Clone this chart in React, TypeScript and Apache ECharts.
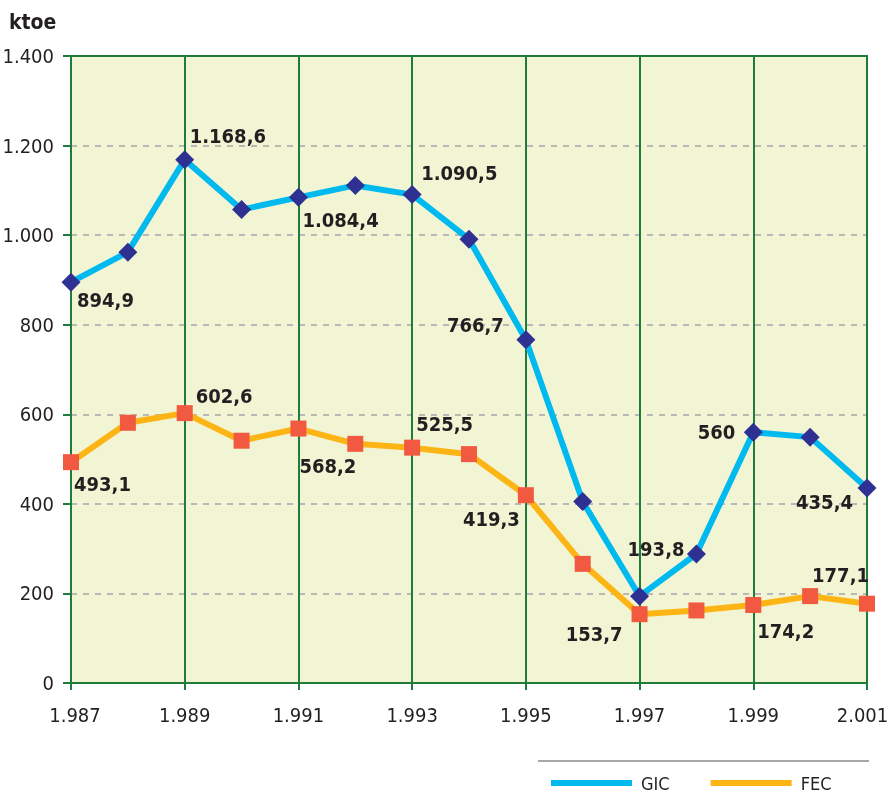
import React, { useEffect, useRef } from "react";
import * as echarts from "echarts";

const years = ["1987","1988","1989","1990","1991","1992","1993","1994","1995","1996","1997","1998","1999","2000","2001"];
const yearLabels = ["1.987","1.988","1.989","1.990","1.991","1.992","1.993","1.994","1.995","1.996","1.997","1.998","1.999","2.000","2.001"];
const gicValues = [894.9, 962, 1168.6, 1057, 1084.4, 1111, 1090.5, 991, 766.7, 405, 193.8, 288, 560, 549, 435.4];
const fecValues = [493.1, 581, 602.6, 541, 568.2, 534, 525.5, 511, 419.3, 266, 153.7, 162, 174.2, 194, 177.1];
const yTicks = [0, 200, 400, 600, 800, 1000, 1200, 1400];

// label placement: index -> [align, dx, dy]
const gicLabelPlace: Record<number, [string, number, number]> = {
  0: ["left", 6, 18],
  2: ["left", 5, -24],
  4: ["left", 4, 23],
  6: ["left", 9, -22],
  8: ["right", -22, -15],
  10: ["left", -12, -47],
  12: ["right", -18, 0],
  14: ["right", -14, 14],
};
const fecLabelPlace: Record<number, [string, number, number]> = {
  0: ["left", 3, 22],
  2: ["left", 11, -17],
  4: ["left", 1, 37],
  6: ["left", 4, -24],
  8: ["right", -6, 24],
  10: ["right", -17, 20],
  12: ["left", 4, 26],
  14: ["right", 2, -29],
};

const FONT = "'Liberation Sans Narrow', 'DejaVu Sans Condensed', 'Arial Narrow', sans-serif";
const TEXT = "#231f20";
const GREEN = "#1e7d3a";

function fmtNum(v: number): string {
  const neg = v < 0;
  const a = Math.abs(v);
  const intPart = Math.floor(a + 1e-9);
  const dec = Math.round((a - intPart) * 10);
  let s = String(intPart);
  if (intPart >= 1000) s = Math.floor(intPart / 1000) + "." + String(intPart % 1000).padStart(3, "0");
  if (dec > 0) s += "," + dec;
  return (neg ? "-" : "") + s;
}

function buildData(values: number[], place: Record<number, [string, number, number]>) {
  return values.map((v, i) => {
    const p = place[i];
    if (!p) return { value: v };
    return {
      value: v,
      label: {
        show: true,
        position: "inside",
        align: p[0],
        verticalAlign: "middle",
        offset: [p[1], p[2]],
        formatter: () => fmtNum(v),
        fontFamily: FONT,
        fontWeight: "bold",
        fontSize: 20,
        color: TEXT,
      },
    };
  });
}

export default function App() {
  const ref = useRef<HTMLDivElement>(null);
  useEffect(() => {
    if (!ref.current) return;
    const chart = echarts.init(ref.current, null, { renderer: "svg" });
    const axisFont = { fontSize: 20, color: TEXT, fontFamily: FONT };
    chart.setOption({
      animation: false,
      textStyle: { fontFamily: FONT },
      grid: {
        left: 71,
        right: 23,
        top: 56,
        bottom: 114,
        outerBoundsMode: "none",
        containLabel: false,
        show: true,
        backgroundColor: "#f1f5d4",
        borderColor: GREEN,
        borderWidth: 2,
      },
      xAxis: {
        type: "category",
        data: years,
        boundaryGap: false,
        axisLine: { lineStyle: { color: GREEN, width: 2 } },
        axisTick: { show: true, interval: 1, length: 7, lineStyle: { color: GREEN, width: 2 } },
        axisLabel: {
          interval: 1,
          margin: 22,
          ...axisFont,
          formatter: (val: string) => {
            const i = years.indexOf(val);
            if (i === 0) return `{first|${yearLabels[i]}}`;
            if (i === years.length - 1) return `{last|${yearLabels[i]}}`;
            return yearLabels[i];
          },
          rich: {
            first: { ...axisFont, padding: [0, 0, 0, 8] },
            last: { ...axisFont, padding: [0, 9, 0, 0] },
          },
        },
        splitLine: { show: true, interval: 1, showMinLine: false, lineStyle: { color: GREEN, width: 2 } },
      },
      yAxis: {
        type: "value",
        min: yTicks[0],
        max: yTicks[yTicks.length - 1],
        interval: 200,
        axisLine: { show: true, lineStyle: { color: GREEN, width: 2 } },
        axisTick: { show: true, length: 8, lineStyle: { color: GREEN, width: 2 } },
        axisLabel: {
          margin: 17,
          ...axisFont,
          formatter: (v: number) => fmtNum(v),
        },
        splitLine: {
          show: true,
          showMinLine: false,
          showMaxLine: false,
          lineStyle: { color: "#b8b8b8", width: 2, type: [6, 6] },
        },
      },
      legend: {
        left: 546,
        top: 768,
        itemWidth: 81,
        itemHeight: 6,
        itemGap: 41,
        textStyle: { fontSize: 18, lineHeight: 20, color: TEXT, fontFamily: FONT, padding: [0, 0, 0, 4] },
        data: [
          { name: "GIC", icon: "rect", itemStyle: { color: "#00b9ef", borderWidth: 0 } },
          { name: "FEC", icon: "rect", itemStyle: { color: "#fdb515", borderWidth: 0 } },
        ],
      },
      graphic: [
        {
          type: "text",
          left: 9,
          top: 11,
          style: { text: "ktoe", font: `bold 21px ${FONT}`, fill: TEXT },
        },
        {
          type: "line",
          shape: { x1: 538, y1: 761, x2: 869, y2: 761 },
          style: { stroke: "#8a8a8a", lineWidth: 1.5 },
        },
      ],
      series: [
        {
          name: "GIC",
          type: "line",
          data: buildData(gicValues, gicLabelPlace),
          symbol: "diamond",
          symbolSize: 19,
          lineStyle: { color: "#00b9ef", width: 6 },
          itemStyle: { color: "#2e3192" },
          z: 3,
        },
        {
          name: "FEC",
          type: "line",
          data: buildData(fecValues, fecLabelPlace),
          symbol: "rect",
          symbolSize: 16,
          lineStyle: { color: "#fdb515", width: 6 },
          itemStyle: { color: "#f15a40" },
          z: 2,
        },
      ],
    });
    return () => chart.dispose();
  }, []);
  return <div ref={ref} style={{ position: "fixed", left: 0, top: 0, width: 890, height: 797 }} />;
}
